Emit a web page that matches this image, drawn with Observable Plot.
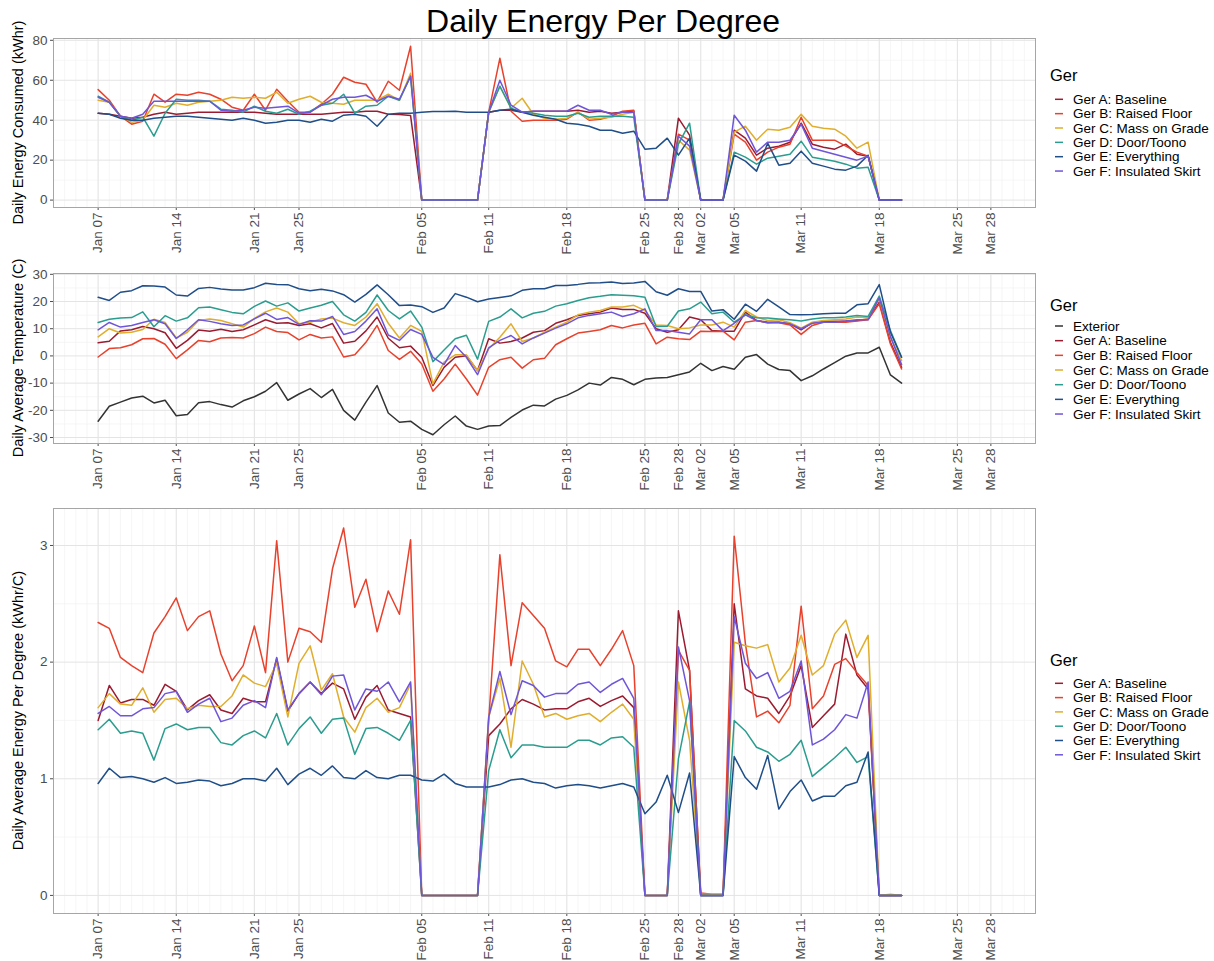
<!DOCTYPE html>
<html><head><meta charset="utf-8">
<script src="https://cdn.jsdelivr.net/npm/d3@7"></script>
<script src="https://cdn.jsdelivr.net/npm/@observablehq/plot@0.6"></script>
<style>
body{margin:0;background:#fff;font-family:Arial,"Liberation Sans",sans-serif;}
#root{position:relative;width:1214px;height:961px;overflow:hidden;background:#fff;}
.panel{position:absolute;left:0;}
#overlay{position:absolute;left:0;top:0;pointer-events:none;}
</style></head>
<body><div id="root"></div>
<script>
// ---------- data ----------
const firstDay = "2019-01-07";           // daily series start (73 consecutive days)
const gerNames = ["Ger A: Baseline","Ger B: Raised Floor","Ger C: Mass on Grade","Ger D: Door/Toono","Ger E: Everything","Ger F: Insulated Skirt"];
const exteriorName = "Exterior";
const tickLabels = ["2019-01-07","2019-01-14","2019-01-21","2019-01-25","2019-02-05","2019-02-11","2019-02-18","2019-02-25","2019-02-28","2019-03-02","2019-03-05","2019-03-11","2019-03-18","2019-03-25","2019-03-28"];

// Daily energy consumed (kWhr)
const energyA = [43.5,43,42,41,41.5,43,44,43,43.5,44, 44,44,44,44,44,43.5,43,43,43,43, 43,43.5,44,44,44.5,44.5,43,42.8,42.3,0, 0,0,0,0,0,44,45,45,44,44.5, 44.5,44.5,44.5,45,44,44.5,43.5,44,44.5,0, 0,0,41,32.5,0,0,0,35,31,22.5, 26,27,29,38.5,28,26.5,25.5,28,23,22, 0,0,0];
const energyB = [55.3,50,42,38,39.5,53,49,53,52.5,54, 53,50.5,46.5,45,53,45,55.5,49.5,44,44, 48,53,61.5,59,58,49,59.5,55,77,0, 0,0,0,0,0,44,71,44.5,39.5,40, 40,40,40.5,44,40,40.5,42,44.5,45,0, 0,0,33,30,0,0,0,33,29,20, 24,26.5,28,41.5,30,30,30,27,24,22, 0,0,0];
const energyC = [50,49,42,39,40,47.5,46.5,48.5,47.5,49, 49.5,50,51.5,51,51.5,51,54,48.5,50.5,52, 49,48.5,48,50,50,50,53,50,63.5,0, 0,0,0,0,0,44,57,46,51,43, 41,40.5,41,44,40.5,41,41.5,43,44,0, 0,0,30,25,0,0,0,34,37,30, 35.5,35,36.5,43,37,36,35.5,32,26,29, 0,0,0];
const energyD = [52,49,42,40,41.5,32,43.5,50.5,50,50, 49.5,45.5,45,44,47,44.5,43.5,45.5,43,44.5, 47.5,48.5,53,43.5,47,47.5,52,50,62,0, 0,0,0,0,0,44,57,46,44,43.5, 42.5,42,42,43.5,41.5,42,42,42,41.5,0, 0,0,28,38.5,0,0,0,24,21.5,18, 21,22,23,29.5,21.5,20.5,19.5,18,16,16.5, 0,0,0];
const energyE = [43.5,43,41,40,40,41,41.5,42,42,41.5, 41,40.5,40,41,40,38.5,39,40,40,39, 40.5,39.5,42.5,43,42,37,43,43.5,43.5,44, 44.3,44.3,44.5,44,44,44,45,45.5,44,42.5, 41.5,40.5,38.5,38,37,35,35,33.5,34.5,25.5, 26,31,22.5,31,0,0,0,22.5,19.5,14.5, 28.5,17.5,18.5,24.5,18.5,17,15.5,15,17,22.5, 0,0,0];
const energyF = [51.5,49,42,41,43,49.5,49.5,49.5,49.5,49.5, 49.5,45,44.5,45,46.5,46,46.5,47,43.5,44, 47.5,50.5,51.5,51.5,52.5,49.5,52,50.5,62,0, 0,0,0,0,0,44,60,47.5,44,44.5, 44.5,44.5,44.5,47.5,45,45,43,44,44,0, 0,0,32,27,0,0,0,42.5,35,24, 29,29,30,38,26,24.5,23,21.5,20,22, 0,0,0];

// Daily average temperature (C)
const tempExt = [-24,-18.5,-17,-15.5,-14.8,-17.3,-16.3,-22,-21.5,-17.2, -16.8,-17.9,-18.8,-16.5,-15,-13,-9.8,-16.3,-14,-12, -15.3,-12.3,-20,-23.6,-17,-10.9,-21,-24.4,-24,-27, -29,-25.3,-22.1,-25.8,-27,-25.8,-25.6,-22.6,-19.9,-18.1, -18.4,-15.9,-14.5,-12.5,-10,-10.7,-7.9,-8.6,-10.6,-8.6, -8.1,-7.9,-6.9,-5.9,-2.7,-5.4,-3.9,-4.9,-0.5,0.5, -3,-5,-5.4,-9.1,-7.3,-4.8,-2.5,-0.1,1.1,1.1, 3.2,-7,-10];
const tempA = [4.8,5.4,9.2,9.6,10.8,10,8.5,2.8,5.7,9.5, 9.1,9.8,9,9.6,11.4,13.3,12,12.2,11.2,11.8, 10.3,11.9,4.7,5.4,9.2,14.3,6.5,3,3.6,-0.5, -10.9,-4.2,-0.5,0.1,-5.4,6.3,4.7,5.3,6.6,8.7, 9.3,12,13.3,14.9,15.5,16.1,17.6,17.1,17.1,15.7, 10,8.7,9.6,14.3,13.3,9.3,9.1,9.1,16.1,13, 12.4,12.4,11.8,9.6,12.2,12.7,12.7,12.8,13,13.6, 19.8,5,-4.2];
const tempB = [-0.4,2.7,3,4.1,6.3,6.4,4.3,-1,2.2,5.7, 5.2,6.6,6.8,6.6,8.2,10.6,9,8.6,5.9,7.9, 6.6,7,-0.4,0.4,5,11.2,2,-1.3,1.7,-3, -13,-8.5,-3,-8.5,-14.4,-4.2,-1.4,-0.5,-4.5,-1.4, -0.9,4.1,6.3,8.4,9,9.6,11.2,10.3,11.4,12, 4.4,6.9,6.3,6,9.1,9,9.1,5.9,12.4,13, 12.2,12.2,11.4,7.9,11.2,12.4,12.4,12.4,12.8,13.3, 19.2,4.4,-4.8];
const tempC = [7,10,8.4,8.7,9.7,13.5,12.3,6.6,8.7,13, 13.6,13,11.8,10.6,13.8,16.2,17.6,16.1,11.8,12.4, 13.6,13.9,12.2,11.2,14.3,19.2,12,6.6,11.2,9, -10.3,-2.3,0.4,0.4,-5.4,2.6,6.9,11.8,5.3,6.6, 8.7,10.6,12.4,15.1,16.1,16.7,18,18,18.6,16.7, 11.4,11.2,10,10.3,11.4,11.4,12.4,10.6,16.7,14.3, 13,13.3,12.2,10.2,12.4,13,13.3,13.6,14.3,14, 21,6.9,-1.7];
const tempD = [12.3,13.5,13.9,14.1,16.2,10.7,14.8,12.8,14,17.7, 18,17,16,15.5,18.2,20.2,18.3,19.5,16.5,17.6, 18.6,20,15.1,12.8,16,22.4,16.7,13.6,16.5,10.6, -2.1,2.2,6.3,7.6,-1.2,12.7,14.3,17.3,14,15.7, 16.4,18.3,19.2,20.4,21.4,21.9,22.5,22.3,22.1,21.6, 10.8,10.9,16.5,17.3,19.8,15.5,16.1,12.4,15.1,14, 13.9,13.6,13.3,12.8,13.6,14,14,14.3,14.9,14.5, 22,9.3,-0.5];
const tempE = [21.6,20.4,23.4,24,25.8,25.7,25.3,22.4,22,24.8, 25.2,24.6,24.2,24.2,25.1,26.7,26.3,26.2,24.7,24, 24.5,23.9,22.5,19.8,22.6,26.1,22.5,18.5,18.7,18.1, 16,17.6,22.9,21.6,19.9,20.9,21.5,22.1,24.1,24.7, 24.7,25.9,25.9,26.3,26.8,26.9,27.2,26.6,26.8,27.4, 23.6,22.3,24.7,23.7,23.7,16.5,17,13.5,19,16.4, 20.8,18,15.2,15.1,15.2,15.5,15.7,15.7,18.8,19.2, 26.2,8.7,-0.5];
const tempF = [9.6,12.3,10.6,11.2,12.3,13.3,11.8,6.4,9.6,13.3, 12.7,11.8,11.2,11.4,13.6,15.7,13.4,14.1,11.6,12.9, 12.8,14.5,7.9,9,12.8,17.3,7.7,5.7,9.7,7.9, -0.5,-3.2,3.8,-0.5,-6.9,3,5.7,7.5,4.4,6.6, 8.4,10.2,11.8,14,14.9,15.5,16.1,14.5,15.5,17.3, 9.3,9.3,8.7,8.1,13.3,13.3,9.3,12,15.1,13, 12.2,12.4,11.8,10,12,12.4,12.4,12.8,13.3,13.3, 21.4,7.1,-3.2];

// Daily average energy per degree (kWhr/C)
const ratioA = [1.5,1.8,1.65,1.68,1.68,1.63,1.81,1.75,1.59,1.67, 1.72,1.59,1.56,1.69,1.66,1.66,2.03,1.58,1.73,1.83, 1.73,1.82,1.77,1.51,1.7,1.8,1.59,1.56,1.53,0, 0,0,0,0,0,1.37,1.47,1.6,1.68,1.64, 1.59,1.6,1.6,1.66,1.69,1.62,1.67,1.71,1.61,0, 0,0,2.44,1.93,0,0,0,2.5,1.77,1.71, 1.69,1.56,1.71,1.97,1.44,1.54,1.64,2.24,1.89,1.77, 0,0,0];
const ratioB = [2.34,2.29,2.04,1.97,1.91,2.25,2.39,2.55,2.27,2.39, 2.44,2.07,1.84,1.97,2.31,1.91,3.04,2,2.29,2.26, 2.17,2.8,3.15,2.47,2.71,2.26,2.61,2.41,3.05,0, 0,0,0,0,0,1.5,2.92,1.97,2.51,2.4, 2.29,2.01,1.96,2.11,2.11,1.97,2.11,2.27,1.97,0, 0,0,2.1,1.93,0.02,0.01,0.01,3.08,2.16,1.53, 1.58,1.48,1.63,2.48,1.6,1.71,1.98,2.03,1.91,1.8, 0,0,0];
const ratioC = [1.61,1.73,1.64,1.63,1.78,1.57,1.68,1.69,1.6,1.63, 1.62,1.62,1.71,1.89,1.82,1.79,1.99,1.53,1.99,2.14, 1.76,1.9,1.53,1.4,1.61,1.69,1.57,1.61,1.81,0, 0,0,0,0,0,1.53,1.86,1.27,2.01,1.81, 1.53,1.56,1.51,1.54,1.56,1.49,1.57,1.64,1.51,0, 0,0,1.83,1.33,0.01,0.01,0.01,2.17,2.14,2.12, 2.15,1.83,1.95,2.23,1.89,1.97,2.24,2.36,2.04,2.23, 0,0.01,0];
const ratioD = [1.42,1.51,1.39,1.41,1.39,1.16,1.43,1.47,1.42,1.44, 1.44,1.31,1.29,1.37,1.41,1.35,1.56,1.29,1.43,1.53, 1.39,1.51,1.52,1.21,1.43,1.44,1.39,1.33,1.5,0, 0,0,0,0,0,1.07,1.42,1.18,1.29,1.29, 1.27,1.27,1.27,1.33,1.33,1.29,1.35,1.36,1.27,0, 0,0,1.17,1.66,0,0,0,1.5,1.41,1.27, 1.23,1.15,1.21,1.33,1.02,1.1,1.18,1.27,1.14,1.19, 0,0,0];
const ratioE = [0.96,1.09,1.01,1.02,1,0.97,1.01,0.96,0.97,0.99, 0.98,0.94,0.96,1,1,0.98,1.09,0.95,1.04,1.09, 1.03,1.11,1.01,1,1.07,1.01,1,1.03,1.03,0.99, 0.98,1.04,0.96,0.93,0.93,0.93,0.95,0.99,1,0.97, 0.96,0.92,0.94,0.95,0.94,0.92,0.94,0.96,0.93,0.7, 0.8,1.03,0.71,1.05,0,0,0,1.19,1.01,0.91, 1.2,0.74,0.89,0.99,0.81,0.85,0.85,0.94,0.97,1.23, 0,0,0];
const ratioF = [1.56,1.62,1.54,1.54,1.6,1.61,1.73,1.75,1.57,1.64, 1.69,1.49,1.52,1.63,1.67,1.61,2.04,1.59,1.73,1.83, 1.72,1.88,1.89,1.59,1.77,1.75,1.83,1.66,1.83,0, 0,0,0,0,0,1.53,1.92,1.55,1.84,1.8, 1.7,1.73,1.73,1.81,1.83,1.74,1.81,1.86,1.69,0, 0,0,2.13,1.67,0,0,0,2.39,1.99,1.86, 1.91,1.69,1.75,2.01,1.29,1.34,1.42,1.55,1.52,1.83, 0,0,0];

// ---------- styling ----------
const gerColors = ["#9B1B30","#E8412C","#E0AE2C","#2A9D8F","#1F4E89","#6F55D8"];
const extColor = "#333333";
const font = "Arial, 'Liberation Sans', sans-serif";

const parse = d3.utcParse("%Y-%m-%d");
const start = parse(firstDay);
const tickDates = tickLabels.map(parse);
const xDomain = [parse("2019-01-03"), parse("2019-04-01")];
const allDays = d3.utcDay.range(xDomain[0], d3.utcDay.offset(xDomain[1], 1));

function rowsFrom(names, arrays) {
  const rows = [];
  names.forEach((n, k) => arrays[k].forEach((v, i) => rows.push({series: n, date: d3.utcDay.offset(start, i), value: v})));
  return rows;
}

const energyRows = rowsFrom(gerNames, [energyA, energyB, energyC, energyD, energyE, energyF]);
const tempRows = rowsFrom([exteriorName, ...gerNames], [tempExt, tempA, tempB, tempC, tempD, tempE, tempF]);
const ratioRows = rowsFrom(gerNames, [ratioA, ratioB, ratioC, ratioD, ratioE, ratioF]);

function panel(o) {
  return Plot.plot({
    width: 1040, height: o.height,
    marginLeft: 53, marginRight: 5, marginTop: 10, marginBottom: o.marginBottom,
    style: {background: "transparent", fontFamily: font, fontSize: "13.5px", color: "#4d4d4d", overflow: "visible"},
    x: {type: "utc", domain: xDomain, ticks: tickDates, tickFormat: d3.utcFormat("%b %d"), tickRotate: -90, tickSize: 3, tickPadding: 2, label: null},
    y: {domain: o.yDomain, ticks: o.yTicks, tickSize: 3, tickPadding: 3, label: null, tickFormat: d => String(d)},
    color: {domain: o.names, range: o.colors},
    marks: [
      Plot.ruleX(allDays, {stroke: "#f2f2f2", strokeWidth: 0.7}),
      Plot.ruleY(o.yMinor, {stroke: "#f2f2f2", strokeWidth: 0.7}),
      Plot.ruleX(tickDates, {stroke: "#e4e4e4", strokeWidth: 1}),
      Plot.ruleY(o.yTicks, {stroke: "#e4e4e4", strokeWidth: 1}),
      Plot.line(o.rows, {x: "date", y: "value", z: "series", stroke: "series", strokeWidth: 1.5}),
      Plot.frame({stroke: "#a6a6a6"})
    ]
  });
}

const root = document.getElementById("root");
function place(node, top) {
  const d = document.createElement("div");
  d.className = "panel";
  d.style.top = top + "px";
  d.appendChild(node);
  root.appendChild(d);
}

place(panel({height: 240, marginBottom: 61, yDomain: [-3.7, 80.9], yTicks: [0,20,40,60,80], yMinor: [10,30,50,70], rows: energyRows, names: gerNames, colors: gerColors}), 28);
place(panel({height: 238, marginBottom: 58, yDomain: [-32.2, 30.3], yTicks: [-30,-20,-10,0,10,20,30], yMinor: [-25,-15,-5,5,15,25], rows: tempRows, names: [exteriorName, ...gerNames], colors: [extColor, ...gerColors]}), 263);
place(panel({height: 463, marginBottom: 48, yDomain: [-0.155, 3.317], yTicks: [0,1,2,3], yMinor: [0.5,1.5,2.5], rows: ratioRows, names: gerNames, colors: gerColors}), 498);

// ---------- overlay text: title, axis titles, legends ----------
const svg = d3.select(root).append("svg").attr("id", "overlay").attr("width", 1214).attr("height", 961)
  .style("font-family", font);

svg.append("text").attr("x", 603).attr("y", 32).attr("text-anchor", "middle")
  .attr("font-size", 32).attr("fill", "#000").text("Daily Energy Per Degree");

const yTitles = [
  {text: "Daily Energy Consumed (kWhr)", cy: 122.5},
  {text: "Daily Average Temperature (C)", cy: 358},
  {text: "Daily Average Energy Per Degree (kWhr/C)", cy: 710.5}
];
yTitles.forEach(t => {
  svg.append("text").attr("transform", `translate(18,${t.cy}) rotate(-90)`)
    .attr("text-anchor", "middle").attr("dy", "0.35em").attr("font-size", 14.5).attr("fill", "#000").text(t.text);
});

function legend(titleY, itemY, step, names, colors) {
  const g = svg.append("g");
  g.append("text").attr("x", 1050).attr("y", titleY).attr("dy", "0.35em").attr("font-size", 16.5).attr("fill", "#000").text("Ger");
  names.forEach((n, i) => {
    const y = itemY + i * step;
    g.append("line").attr("x1", 1055).attr("x2", 1063).attr("y1", y).attr("y2", y).attr("stroke", colors[i]).attr("stroke-width", 1.5);
    g.append("text").attr("x", 1073).attr("y", y).attr("dy", "0.35em").attr("font-size", 13.5).attr("fill", "#000").text(n);
  });
}
legend(75, 99.3, 14.35, gerNames, gerColors);
legend(305, 326, 14.67, [exteriorName, ...gerNames], [extColor, ...gerColors]);
legend(660, 683.3, 14.3, gerNames, gerColors);
</script></body></html>
